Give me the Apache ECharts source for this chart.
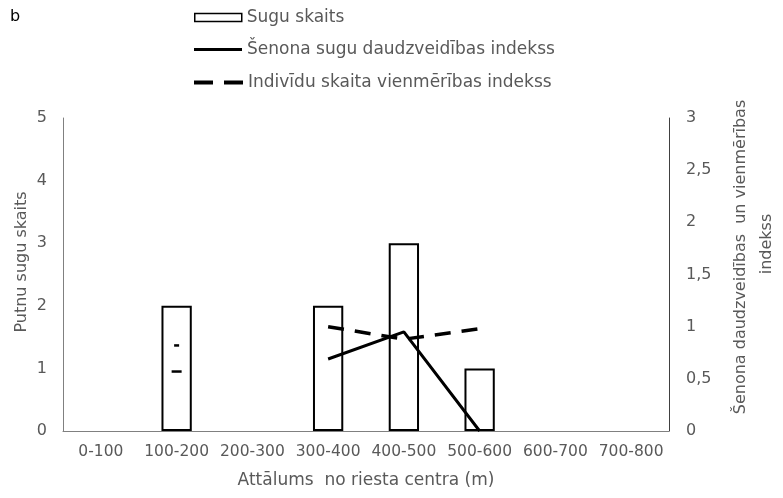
<!DOCTYPE html>
<html><head><meta charset="utf-8">
<script src="https://cdn.jsdelivr.net/npm/echarts@6/dist/echarts.min.js"></script>
<style>html,body{margin:0;padding:0;background:#fff}#c{width:783px;height:498px}</style>
</head><body><div id="c"></div>
<script>
const categories = ['0-100','100-200','200-300','300-400','400-500','500-600','600-700','700-800'];
const speciesCount = [null, 2, null, 2, 3, 1, null, null];
const shannon = [null, 0.57, null, 0.69, 0.95, 0, null, null];
const evenness = [null, 0.82, null, 1.0, 0.88, 0.98, null, null];
const leftTicks = [0, 5, 1];
const rightTicks = [0, 3, 0.5];

const names = ['Sugu skaits', 'Šenona sugu daudzveidības indekss', 'Indivīdu skaita vienmērības indekss'];
const leftTitle = 'Putnu sugu skaits';
const rightTitle = ['Šenona daudzveidības  un vienmērības', 'indekss'];
const xTitle = 'Attālums  no riesta centra (m)';
const txt = '#595959';
const font = 'DejaVu Sans';

function isolated(arr, size) {
  return arr.map((v, i) => {
    if (v === null) return null;
    const prev = i > 0 ? arr[i-1] : null, next = i < arr.length-1 ? arr[i+1] : null;
    if (prev === null && next === null) return {value: v, symbol: 'rect', symbolSize: size, itemStyle: {color: '#000'}};
    return {value: v, symbol: 'none'};
  });
}

const legendText = {color: txt, fontSize: 17, fontFamily: font, lineHeight: 17};
function legendBox(name, top, icon, h, w, style) {
  return {
    orient: 'vertical', left: 194, top: top, padding: 0, itemWidth: w, itemHeight: h,
    textStyle: legendText, selectedMode: false,
    data: [{name: name, icon: icon, itemStyle: style}]
  };
}
function vText(text, x, y, size) {
  return {type: 'text', x: x, y: y, rotation: Math.PI / 2, silent: true,
    style: {text: text, x: 0, y: 0, align: 'center', verticalAlign: 'middle',
      fontSize: size, fontFamily: font, fill: txt}};
}

const chart = echarts.init(document.getElementById('c'), null, {renderer: 'canvas'});
chart.setOption({
  animation: false,
  textStyle: {fontFamily: font},
  graphic: [
    {type: 'text', left: 10, top: 9, style: {text: 'b', fontSize: 16, fill: '#000', fontFamily: font}},
    vText(leftTitle, 22, 262, 16),
    vText(rightTitle[0], 741, 257, 16),
    vText(rightTitle[1], 767, 244, 16)
  ],
  legend: [
    legendBox(names[0], 9, 'rect', 8, 47, {color: '#fff', borderColor: '#000', borderWidth: 1.5}),
    legendBox(names[1], 41, 'rect', 3, 48, {color: '#000', borderWidth: 0}),
    legendBox(names[2], 74, 'path://M0,0H19V4H0Z M30,0H49V4H30Z', 4, 49, {color: '#000', borderWidth: 0})
  ],
  grid: {left: 63, right: 114, top: 118, bottom: 67, outerBoundsMode: 'none', containLabel: false},
  xAxis: {
    type: 'category', data: categories,
    axisLine: {lineStyle: {color: '#808080', width: 1}},
    axisTick: {show: false},
    axisLabel: {color: txt, fontSize: 15.5, margin: 13, fontFamily: font, interval: 0, hideOverlap: false},
    name: xTitle, nameLocation: 'middle', nameGap: 41,
    nameTextStyle: {color: txt, fontSize: 17, fontFamily: font}
  },
  yAxis: [{
    type: 'value', min: leftTicks[0], max: leftTicks[1], interval: leftTicks[2],
    axisLine: {show: true, lineStyle: {color: '#808080'}},
    axisTick: {show: false}, splitLine: {show: false},
    axisLabel: {color: txt, fontSize: 16, margin: 16, fontFamily: font}
  }, {
    type: 'value', min: rightTicks[0], max: rightTicks[1], interval: rightTicks[2], position: 'right',
    axisLine: {show: true, lineStyle: {color: '#404040'}},
    axisTick: {show: false}, splitLine: {show: false},
    axisLabel: {color: txt, fontSize: 16, margin: 17, fontFamily: font,
      formatter: v => String(v).replace('.', ',')}
  }],
  series: [{
    name: names[0], type: 'bar', data: speciesCount, barWidth: '40%', yAxisIndex: 0,
    itemStyle: {color: '#fff', borderColor: '#000', borderWidth: 2}
  }, {
    name: names[1], type: 'line', yAxisIndex: 1, data: isolated(shannon, [10, 2.5]),
    symbol: 'none', showSymbol: true, connectNulls: false,
    lineStyle: {color: '#000', width: 3}, itemStyle: {color: '#000'}
  }, {
    name: names[2], type: 'line', yAxisIndex: 1, data: isolated(evenness, [5, 2.5]),
    symbol: 'none', showSymbol: true, connectNulls: false,
    lineStyle: {color: '#000', width: 3.5, type: [16, 11]}, itemStyle: {color: '#000'}
  }]
});
</script></body></html>
